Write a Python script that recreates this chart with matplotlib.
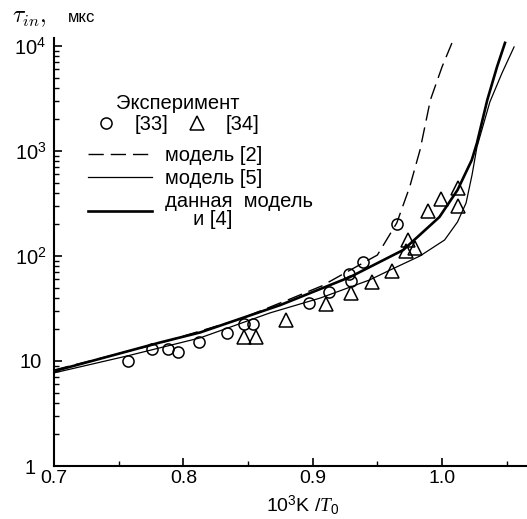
import matplotlib
matplotlib.use("Agg")
import matplotlib.pyplot as plt
from matplotlib.lines import Line2D
from matplotlib.ticker import FixedLocator, FixedFormatter, NullFormatter

plt.rcParams["font.family"] = ["Liberation Sans", "DejaVu Sans"]
plt.rcParams["mathtext.fontset"] = "custom"
plt.rcParams["mathtext.rm"] = "Liberation Sans"
plt.rcParams["mathtext.it"] = "Liberation Serif:italic"

# ── experiment [33] (circles) ─────────────────────────────────────────────────
circ_x = [0.757, 0.776, 0.788, 0.796, 0.812, 0.834, 0.847, 0.854,
          0.897, 0.913, 0.928, 0.930, 0.939, 0.965]
circ_y = [10.0, 13.0, 13.0, 12.2, 15.2, 18.5, 22.5, 22.5,
          35.7, 45.4, 67.4, 57.8, 87.7, 202]

# ── experiment [34] (triangles) ───────────────────────────────────────────────
tri_x = [0.847, 0.856, 0.879, 0.910, 0.930, 0.946, 0.961, 0.972,
         0.974, 0.979, 0.989, 0.999, 1.012, 1.012]
tri_y = [16.9, 16.9, 24.6, 34.9, 44.4, 56.5, 72, 111,
         142, 119, 268, 349, 444, 299]

# ── model curves ──────────────────────────────────────────────────────────────
m2_x = [0.700, 0.782, 0.844, 0.8825, 0.907, 0.925, 0.950, 0.965,
        0.975, 0.983, 0.991, 1.000, 1.0077]
m2_y = [8.2, 14.8, 25.1, 38.9, 51.8, 68.9, 102, 206,
        454, 1023, 3060, 6310, 10700]

m5_x = [0.700, 0.757, 0.813, 0.867, 0.906, 0.944, 0.960, 0.983,
        1.002, 1.012, 1.0186, 1.0232, 1.027, 1.037, 1.0464, 1.0557]
m5_y = [7.7, 11.2, 16.6, 28.7, 39.8, 59.1, 73.6, 100,
        142, 211, 320, 591, 1091, 2930, 5530, 9780]

this_x = [0.700, 0.7356, 0.782, 0.813, 0.875, 0.929, 0.970, 0.998,
          1.012, 1.023, 1.027, 1.035, 1.0425, 1.0487]
this_y = [8.0, 10.5, 15.0, 18.7, 34.1, 63.1, 114, 235,
          425, 820, 1190, 3060, 6310, 10700]

x_ticks = [0.7, 0.8, 0.9, 1.0]
x_minor = [0.75, 0.85, 0.95, 1.05]
y_ticks = [1, 10, 100, 1000, 10000]
y_labels = ["1", "10", "10$^2$", "10$^3$", "10$^4$"]

W, H = 527, 519
fig = plt.figure(figsize=(W / 100, H / 100), dpi=100)
ax = fig.add_axes([54 / W, 1 - 466 / H, 1 - 54 / W, (466 - 38) / H])

ax.plot(m2_x, m2_y, color="black", lw=1.0, dashes=(11, 5))
ax.plot(m5_x, m5_y, color="black", lw=0.9)
ax.plot(this_x, this_y, color="black", lw=1.9)
ax.plot(circ_x, circ_y, "o", ms=8, mfc="none", mec="black", mew=1.1)
ax.plot(tri_x, tri_y, "^", ms=10, mfc="none", mec="black", mew=1.1)

ax.set_yscale("log")
ax.set_xlim(0.7, 1.0657)
ax.set_ylim(1, 11900)

ax.spines["top"].set_visible(False)
ax.spines["right"].set_visible(False)
ax.spines["left"].set_linewidth(1.5)
ax.spines["bottom"].set_linewidth(1.5)

ax.xaxis.set_major_locator(FixedLocator(x_ticks))
ax.xaxis.set_major_formatter(FixedFormatter(["0.7", "0.8", "0.9", "1.0"]))
ax.xaxis.set_minor_locator(FixedLocator(x_minor))
ax.yaxis.set_major_locator(FixedLocator(y_ticks))
ax.yaxis.set_major_formatter(FixedFormatter(y_labels))
ax.yaxis.set_minor_formatter(NullFormatter())

ax.tick_params(which="major", direction="in", length=6, width=1.2, labelsize=14)
ax.tick_params(axis="y", which="major", labelsize=14.5, pad=17)
ax.tick_params(which="minor", direction="in", length=3.5, width=1.0)
ax.tick_params(axis="x", which="major", pad=3)
for t in ax.get_yticklabels():
    t.set_ha("center")

ax.set_xlabel("10$^3$K /$T_0$", fontsize=14)
ax.xaxis.set_label_coords((303 - 54) / (W - 54), -0.063)

fig.text(12 / W, 1 - 22 / H, r"$\tau_{in},$", fontsize=17,
         math_fontfamily="cm", va="baseline", ha="left")
fig.text(68 / W, 1 - 22 / H, "мкс", fontsize=12, va="baseline", ha="left")

# ── legends ───────────────────────────────────────────────────────────────────
exp_handles = [
    Line2D([], [], ls="none", marker="o", ms=8, mfc="none", mec="black", mew=1.1),
    Line2D([], [], ls="none", marker="^", ms=10, mfc="none", mec="black", mew=1.1),
]
leg1 = ax.legend(exp_handles, ["[33]", "[34]"], title="Эксперимент", ncol=2,
                 frameon=False, fontsize=14.5, title_fontsize=14.5,
                 handlelength=1.0, handletextpad=0.9, columnspacing=0.95,
                 labelspacing=0.1,
                 borderpad=0, borderaxespad=0, loc="upper left",
                 bbox_to_anchor=((96 - 54) / (W - 54), (466 - 94) / 428))
ax.add_artist(leg1)

line_handles = [
    Line2D([], [], color="black", lw=1.0, dashes=(11, 5)),
    Line2D([], [], color="black", lw=0.9),
    Line2D([], [], color="black", lw=1.9),
]
leg2 = ax.legend(line_handles,
                 ["модель [2]", "модель [5]", "данная  модель\n     и [4]"],
                 frameon=False, fontsize=14.5, handlelength=3.2, handletextpad=0.6,
                 labelspacing=0.2, borderpad=0, borderaxespad=0, loc="upper left",
                 bbox_to_anchor=((88 - 54) / (W - 54), (466 - 146) / 428))
for t in leg2.get_texts():
    t.set_linespacing(0.95)

fig.savefig("out.png", dpi=100)
